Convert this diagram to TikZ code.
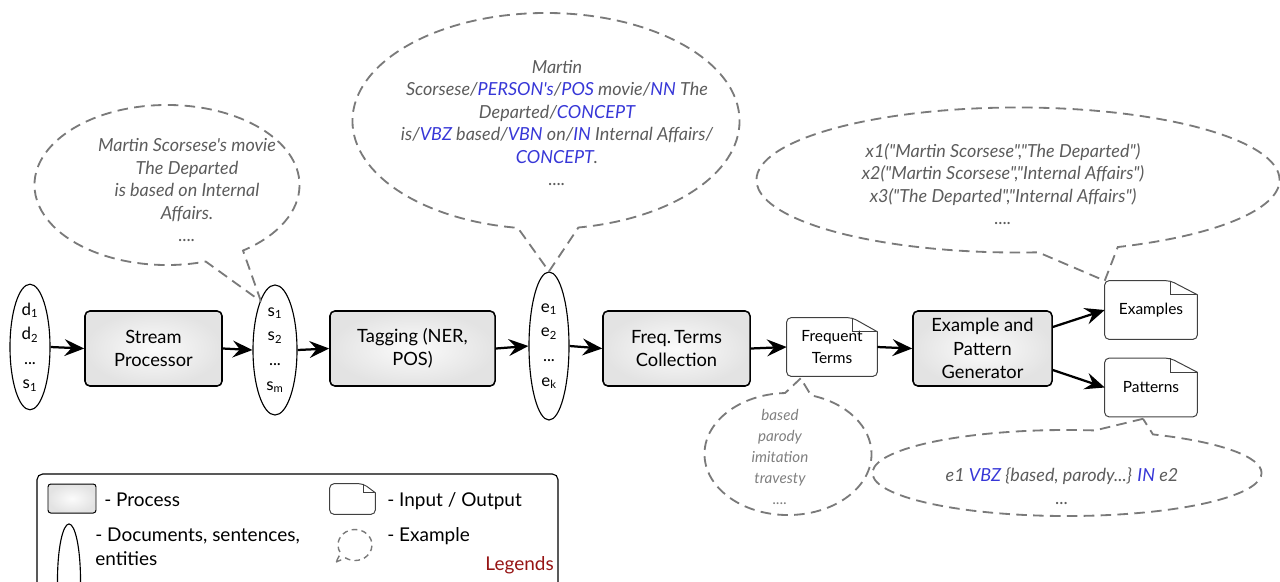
\documentclass[tikz,border=0pt]{standalone}
\usepackage{fontspec}
\setmainfont{Lato}[Ligatures=TeXOff]
\usetikzlibrary{arrows.meta,positioning,calc,shapes.geometric,shapes.callouts}
\definecolor{tagblue}{RGB}{55,55,215}
\definecolor{notegray}{RGB}{92,92,92}
\definecolor{dashgray}{RGB}{122,122,122}
\definecolor{legendred}{RGB}{150,20,20}
\tikzset{%
   process/.style={
      draw=black,
      line width=1.1pt,
      rounded corners=3.5pt,
      inner color=gray!3,
      outer color=gray!22,
      align=center,
      font=\fontsize{13}{16.5}\selectfont,
      minimum height=1.875cm
   },
   docnode/.style={
      inner sep=0pt,
      align=center,
      font=\fontsize{11}{15}\selectfont,
      minimum width=2.3cm,
      minimum height=1.45cm
   },
   items/.style={
      draw=black,
      line width=0.8pt,
      ellipse,
      inner sep=0pt,
      align=center,
      font=\fontsize{12}{17.5}\selectfont
   },
   flow/.style={
      line width=1.6pt,
      -{Stealth[length=14pt,width=12pt,inset=5pt]}
   },
   bubble/.style={
      ellipse callout,
      draw=dashgray,
      line width=1.3pt,
      dash pattern=on 7.5pt off 4.5pt,
      inner sep=0pt,
      callout pointer arc=18
   },
   note/.style={
      text=notegray,
      align=center,
      font=\fontsize{12.8}{16}\selectfont\itshape
   },
   lgtext/.style={
      inner sep=0pt,
      font=\fontsize{13.5}{16}\selectfont
   },
}
\newcommand\tg[1]{\textcolor{tagblue}{#1}}
% folded page drawn round a node: name, fold width, fold height
\newcommand\docoutline[3]{%
  \draw[black!75, line width=0.7pt, rounded corners=3pt]
     (#1.south west) -- (#1.north west) -- ($(#1.north east)+(-#2,0)$)
     [sharp corners] -- ($(#1.north east)+(0,#3)$)
     [rounded corners=3pt] -- (#1.south east) -- cycle;
  \draw[black!75, line width=0.7pt]
     ($(#1.north east)+(-#2,0)$) -- ($(#1.north east)+(-#2,#3)$) -- ($(#1.north east)+(0,#3)$);
}

\begin{document}
\begin{tikzpicture}[x=0.025cm, y=-0.025cm]
   \useasboundingbox (0,0) rectangle (1280,581);
   \clip (0,0) rectangle (1280,581);
   % pipeline
   \node[items, minimum width=1cm, minimum height=2.75cm] (docs) at (30,347)
      {d\textsubscript{1}\\d\textsubscript{2}\\...\\s\textsubscript{1}};
   \node[process, minimum width=3.425cm] (stream) at (153.5,348.5) {Stream\\Processor};
   \node[items, minimum width=1.1cm, minimum height=3.25cm] (sents) at (275,350)
      {s\textsubscript{1}\\s\textsubscript{2}\\...\\s\textsubscript{m}};
   \node[process, minimum width=4.125cm] (tagging) at (412.5,348.5) {Tagging (NER,\\POS)};
   \node[items, minimum width=1cm, minimum height=3.7cm] (ents) at (549,346)
      {e\textsubscript{1}\\e\textsubscript{2}\\...\\e\textsubscript{k}};
   \node[process, minimum width=3.675cm] (freq) at (676.5,348.5) {Freq.\,Terms\\Collection};
   \node[docnode, minimum width=2.25cm] (fdoc) at (832,347) {Frequent\\Terms};
   \docoutline{fdoc}{25}{14}
   \node[process, minimum width=3.475cm] (gen) at (982.5,348.5) {Example and\\Pattern\\Generator};
   \node[docnode] (exdoc) at (1151,310) {Examples};
   \docoutline{exdoc}{27}{14}
   \node[docnode] (patdoc) at (1151,387.5) {Patterns};
   \docoutline{patdoc}{27}{14}

   \draw[flow] (docs.east) -- (stream.west);
   \draw[flow] (stream.east) -- (sents.east -| sents.west);
   \draw[flow] (sents.east) -- (tagging.west);
   \draw[flow] (tagging.east) -- (ents.west);
   \draw[flow] (ents.east) -- (freq.west);
   \draw[flow] (freq.east) -- (fdoc.west);
   \draw[flow] (fdoc.east) -- (gen.west);
   \draw[flow] ($(gen.east)+(0,-21.5)$) -- (exdoc.west);
   \draw[flow] ($(gen.east)+(0,21.5)$) -- (patdoc.west);

   % example bubbles
   \coordinate (tipA) at ($(sents.north)+(-14,17)$);
   \node[bubble, minimum width=6.625cm, minimum height=4cm,
         callout absolute pointer={(tipA)}] (noteA) at (167,185) {};
   \node[note] (txtA) at (187,190)
      {Martin Scorsese's movie\\The Departed\\is based on Internal\\Affairs.\\....};
   \node[bubble, minimum width=9.675cm, minimum height=5.4cm,
         callout absolute pointer={(ents.north)}] (noteB) at (546,121) {};
   \node[note] (txtB) at (557,123)
      {Martin\\
       Scorsese/\tg{PERSON's}/\tg{POS} movie/\tg{NN} The\\
       Departed/\tg{CONCEPT}\\
       is/\tg{VBZ} based/\tg{VBN} on/\tg{IN} Internal Affairs/\\
       \tg{CONCEPT}.\\
       ....};
   \node[bubble, minimum width=13.075cm, minimum height=3.625cm,
         callout absolute pointer={(exdoc.north west)}] (noteC) at (1018,180) {};
   \node[note] (txtC) at (1003,184)
      {x1("Martin Scorsese","The Departed")\\
       x2("Martin Scorsese","Internal Affairs")\\
       x3("The Departed","Internal Affairs")\\
       ....};
   \coordinate (tipD) at ($(fdoc.south west)+(14,2)$);
   \node[bubble, minimum width=4.175cm, minimum height=3.05cm,
         callout absolute pointer={(tipD)}] (noteD) at (788,454) {};
   \node[note, text=black!50, font=\fontsize{10.8}{15}\selectfont\itshape] (txtD) at (780,457)
      {based\\parody\\imitation\\travesty\\....};
   \coordinate (tipE) at ($(patdoc.south)+(-8,2)$);
   \node[bubble, minimum width=9.725cm, minimum height=2.15cm,
         callout absolute pointer={(tipE)}] (noteE) at (1067,473) {};
   \node[note] (txtE) at (1062,486)
      {e1 \tg{VBZ} \{based, parody...\} \tg{IN} e2\\...};

   % legend
   \draw[black, line width=0.8pt, rounded corners=4pt] (37,474) rectangle (558,600);
   \node[process, minimum width=1.2cm, minimum height=0.725cm, line width=0.7pt,
         rounded corners=2pt] (lgProc) at (72,498.5) {};
   \node[lgtext, anchor=base west] (lgProcTxt) at (104,506) {- Process};
   \node[docnode, minimum width=1.125cm, minimum height=0.75cm] (lgDoc) at (352.5,499) {};
   \docoutline{lgDoc}{12}{9}
   \node[lgtext, anchor=base west] (lgDocTxt) at (387,506) {- Input / Output};
   \node[items, minimum width=0.575cm, minimum height=2.8cm] (lgEll) at (69,580) {};
   \node[lgtext, anchor=base west] (lgEllTxt) at (95,541) {- Documents, sentences,};
   \node[lgtext, anchor=base west] (lgEllTxtB) at (95,565) {entities};
   \node[bubble, minimum width=0.85cm, minimum height=0.775cm, line width=1pt,
         dash pattern=on 4pt off 3pt, callout pointer arc=25,
         callout absolute pointer={(336,562)}] (lgNote) at (355,545) {};
   \node[lgtext, anchor=base west] (lgNoteTxt) at (387,541) {- Example};
   \node[lgtext, anchor=base east, text=legendred] (lgTitle) at (554,570) {Legends};
\end{tikzpicture}
\end{document}
